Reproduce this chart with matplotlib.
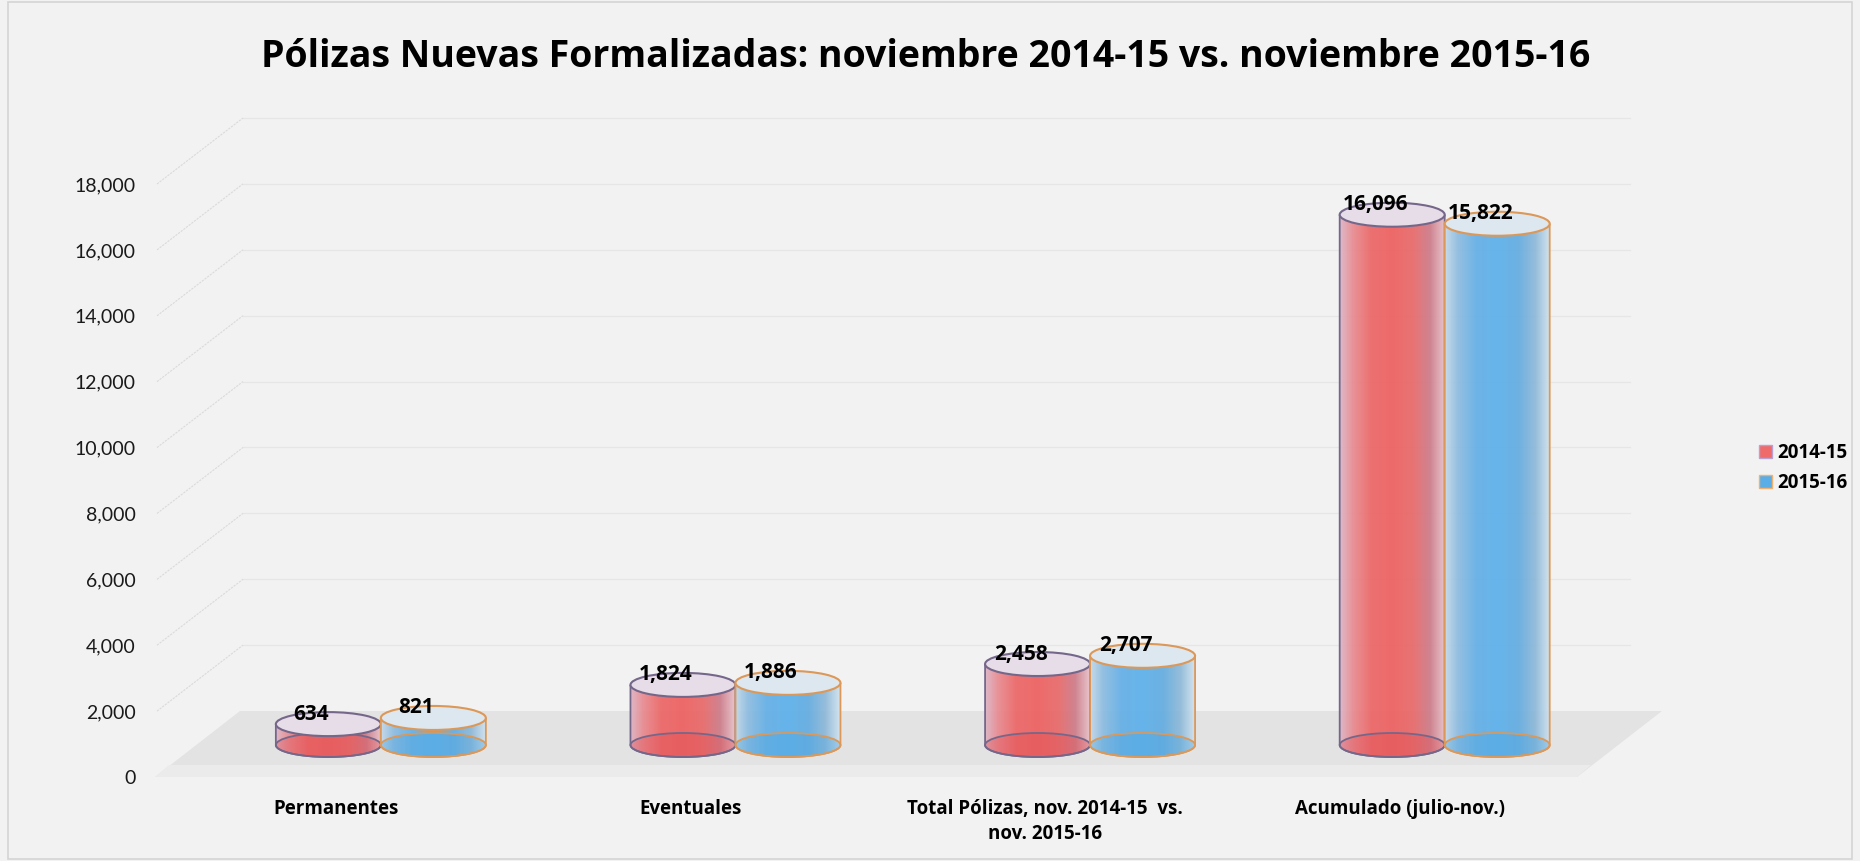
import numpy as np
import matplotlib
matplotlib.use('Agg')
import matplotlib.pyplot as plt
from matplotlib.patches import Ellipse, Polygon, Patch, Rectangle
from matplotlib.colors import LinearSegmentedColormap

plt.rcParams['font.family'] = ['Lato', 'DejaVu Sans']
BOLD = ['Open Sans', 'DejaVu Sans']

# data
categories = ['Permanentes', 'Eventuales',
              'Total Pólizas, nov. 2014-15  vs.\nnov. 2015-16',
              'Acumulado (julio-nov.)']
series_names = ['2014-15', '2015-16']
vals_1415 = [634, 1824, 2458, 16096]
vals_1516 = [821, 1886, 2707, 15822]
yticks = list(range(0, 18001, 2000))
title = 'Pólizas Nuevas Formalizadas: noviembre 2014-15 vs. noviembre 2015-16'

W, H = 1860, 861
fig = plt.figure(figsize=(W / 100, H / 100), dpi=100, facecolor='#f2f2f2')
ax = fig.add_axes([155 / W, 84 / H, 1422 / W, 593 / H])
ax.set_facecolor('none')
XMIN, XMAX = -0.51, 3.5
YMAX = 18000
PX_X = 1422 / (XMAX - XMIN)
PX_Y = 593 / YMAX


def dx(p):
    return p / PX_X


def dy(p):
    return p / PX_Y


# floor
ax.add_patch(Polygon([(XMIN, 0), (XMAX, 0), (XMAX + dx(85), dy(66)), (XMIN + dx(85), dy(66))],
                     facecolor='#e3e3e3', edgecolor='none', zorder=1, clip_on=False))
ax.add_patch(Polygon([(XMIN, 0), (XMAX, 0), (XMAX + dx(14), dy(12)), (XMIN + dx(14), dy(12))],
                     facecolor='#ebebeb', edgecolor='none', zorder=1.1, clip_on=False))

# gridlines: back wall + side wall
for v in yticks[1:]:
    ax.plot([XMIN + dx(88), 3.40 + dx(88)], [v + dy(66), v + dy(66)], color='#e6e6e6', lw=0.9,
            zorder=0.5, clip_on=False)
    ax.plot([XMIN + dx(2), XMIN + dx(88)], [v, v + dy(66)], color='#dadada', lw=0.8, ls=(0, (2, 1)),
            zorder=0.5, clip_on=False)

red_stops = ['#dcb4c4', '#e88a90', '#ec6464', '#ee5e5e', '#e86868', '#cc7a88', '#e8c0c8']
blue_stops = ['#c4d8e8', '#8cbce0', '#62aee6', '#5ab0ec', '#62ace0', '#8cb8d8', '#d0e2ee']
pos = [0, 0.12, 0.3, 0.5, 0.7, 0.86, 1.0]
red_cmap = LinearSegmentedColormap.from_list('r', list(zip(pos, red_stops)))
blue_cmap = LinearSegmentedColormap.from_list('b', list(zip(pos, blue_stops)))

w = dx(105)


def cylinder(xc, v, cmap, edge, topfill, basefill, z):
    a = w / 2
    b = dy(12)
    y0 = dy(32)
    xc = xc + dx(45)
    t = np.linspace(np.pi, 2 * np.pi, 80)
    verts = [(xc - a, y0 + v)] + list(zip(xc + a * np.cos(t), y0 + b * np.sin(t))) + [(xc + a, y0 + v)]
    clip = Polygon(verts, closed=True, transform=ax.transData)
    grad = np.linspace(0, 1, 256).reshape(1, -1)
    im = ax.imshow(grad, cmap=cmap, extent=[xc - a, xc + a, y0 - b, y0 + v], aspect='auto',
                   alpha=0.92, zorder=z, interpolation='bilinear')
    im.set_clip_path(clip)
    ax.add_patch(Ellipse((xc, y0), w, 2 * b, facecolor=basefill, edgecolor='none', alpha=0.35, zorder=z + 0.04))
    ax.add_patch(Ellipse((xc, y0), w, 2 * b, fill=False, edgecolor=edge, lw=1.3, zorder=z + 0.05))
    ax.add_patch(Polygon(verts, closed=False, fill=False, edgecolor=edge, lw=1.3, zorder=z + 0.1))
    ax.add_patch(Ellipse((xc, y0 + v), w, 2 * b, facecolor=topfill, edgecolor=edge, lw=1.5, zorder=z + 0.2))
    ax.annotate(f'{v:,}', (xc, y0 + v), xytext=(-17, 10), textcoords='offset pixels',
                ha='center', va='center', fontsize=15, fontweight='bold', family=BOLD, zorder=20)


for i in range(len(categories)):
    cylinder(i - w / 2, vals_1415[i], red_cmap, '#75678a', '#e6dde8', '#e04a50', 5 + i)
    cylinder(i + w / 2, vals_1516[i], blue_cmap, '#dc9858', '#dde7ef', '#4aa4e0', 5.5 + i)

ax.set_xlim(XMIN, XMAX)
ax.set_ylim(0, YMAX)
ax.set_yticks(yticks, [f'{t:,}' for t in yticks])
ax.set_xticks(range(len(categories)), categories)
ax.tick_params(axis='y', length=0, pad=14, labelsize=14, labelcolor='#1a1a1a')
ax.tick_params(axis='x', length=0, pad=16, labelsize=13.5)
for lbl in ax.get_xticklabels():
    lbl.set_fontweight('bold')
    lbl.set_family(BOLD)
    lbl.set_linespacing(1.3)
for s in ax.spines.values():
    s.set_visible(False)

fig.text(926 / W, 1 - 57 / H, title, ha='center', va='center', fontsize=27, fontweight='bold', family=BOLD)

handles = [Patch(facecolor='#ef6b6b', edgecolor='#b8a0d0'), Patch(facecolor='#5aaee8', edgecolor='#f0b070')]
fig.legend(handles=handles, labels=series_names, loc='center left', bbox_to_anchor=(1759 / W, 1 - 468 / H),
           frameon=False, borderpad=0, borderaxespad=0, handlelength=0.7, handleheight=0.7,
           handletextpad=0.3, labelspacing=0.55, prop={'weight': 'bold', 'size': 13.5, 'family': BOLD})

fig.add_artist(Rectangle((8 / W, 2 / H), 1844 / W, 857 / H, transform=fig.transFigure,
                         fill=False, edgecolor='#d4d4d4', lw=1.2))

fig.savefig('out.png', dpi=100, facecolor=fig.get_facecolor())
